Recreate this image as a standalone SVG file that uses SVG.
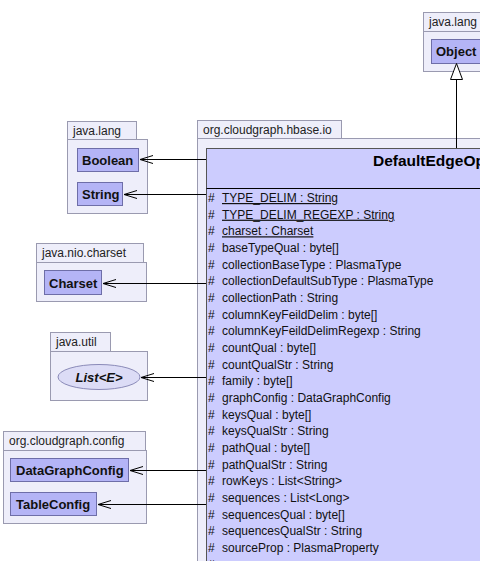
<svg xmlns="http://www.w3.org/2000/svg" width="480" height="561" viewBox="0 0 480 561">
<defs>
<style>
.pkg{fill:#eeeefa;stroke:#9a9ab0;stroke-width:1}
.box{fill:#b4b4f6;stroke:#6e6ea8;stroke-width:1}
.cls{fill:#ccccfe;stroke:#555;stroke-width:1}
.pl{font-family:"Liberation Sans",Arial,sans-serif;font-size:12px;fill:#222}
.nm{font-family:"Liberation Sans",Arial,sans-serif;font-size:13px;font-weight:bold;fill:#111}
.at{font-family:"Liberation Sans",Arial,sans-serif;font-size:12px;fill:#111}
.u{text-decoration:underline}
.ln{stroke:#000;stroke-width:1;fill:none}
</style>
<marker id="open" markerWidth="14" markerHeight="10" refX="13" refY="5" orient="auto" markerUnits="userSpaceOnUse">
<path d="M0,1 L13,5 L0,9" fill="none" stroke="#000" stroke-width="1"/>
</marker>
</defs>
<rect width="480" height="561" fill="#fff"/>

<g id="pkg-java-lang-top">
<rect class="pkg" x="423.5" y="12.5" width="70" height="19"/>
<rect class="pkg" x="423.5" y="31.5" width="70" height="40"/>
<text class="pl" x="429" y="26">java.lang</text>
<g id="Object">
<rect class="box" x="431.5" y="39.5" width="60" height="24"/>
<text class="nm" x="436" y="56">Object</text>
</g>
</g>

<g id="pkg-java-lang">
<rect class="pkg" x="67.5" y="121.5" width="69" height="18"/>
<rect class="pkg" x="67.5" y="139.5" width="80" height="74"/>
<text class="pl" x="73" y="135">java.lang</text>
<g id="Boolean">
<rect class="box" x="77.5" y="148.5" width="61" height="23"/>
<text class="nm" x="82" y="165">Boolean</text>
</g>
<g id="String">
<rect class="box" x="77.5" y="182.5" width="45" height="23"/>
<text class="nm" x="82" y="199">String</text>
</g>
</g>

<g id="pkg-java-nio-charset">
<rect class="pkg" x="36.5" y="243.5" width="107" height="19"/>
<rect class="pkg" x="36.5" y="262.5" width="110" height="39"/>
<text class="pl" x="42" y="257">java.nio.charset</text>
<g id="Charset">
<rect class="box" x="44.5" y="270.5" width="57" height="24"/>
<text class="nm" x="49" y="288">Charset</text>
</g>
</g>

<g id="pkg-java-util">
<rect class="pkg" x="50.5" y="332.5" width="60" height="19"/>
<rect class="pkg" x="50.5" y="351.5" width="97" height="49"/>
<text class="pl" x="56" y="346">java.util</text>
<g id="List">
<ellipse cx="99" cy="377" rx="41" ry="12.5" fill="#dcdcf6" stroke="#8a8ab8"/>
<text class="nm" x="99" y="382" text-anchor="middle" font-style="italic">List&lt;E&gt;</text>
</g>
</g>

<g id="pkg-org-cloudgraph-config">
<rect class="pkg" x="3.5" y="431.5" width="142" height="19"/>
<rect class="pkg" x="3.5" y="450.5" width="143" height="73"/>
<text class="pl" x="9" y="445">org.cloudgraph.config</text>
<g id="DataGraphConfig">
<rect class="box" x="10.5" y="458.5" width="118" height="23"/>
<text class="nm" x="16" y="475">DataGraphConfig</text>
</g>
<g id="TableConfig">
<rect class="box" x="10.5" y="492.5" width="86" height="23"/>
<text class="nm" x="16" y="509">TableConfig</text>
</g>
</g>

<g id="pkg-org-cloudgraph-hbase-io">
<rect class="pkg" x="197.5" y="120.5" width="144" height="18"/>
<rect class="pkg" x="197.5" y="138.5" width="300" height="440"/>
<text class="pl" x="203" y="134">org.cloudgraph.hbase.io</text>
<g id="DefaultEdgeOperator">
<rect class="cls" x="206.5" y="148.5" width="290" height="430"/>
<line class="ln" x1="206.5" y1="188.5" x2="496" y2="188.5"/>
<text x="373" y="166" font-family="'Liberation Sans',Arial,sans-serif" font-size="15.5" font-weight="bold" fill="#000">DefaultEdgeOperator</text>
<g class="at">
<text x="208" y="202">#</text><text x="222" y="202" class="u">TYPE_DELIM : String</text>
<text x="208" y="218.7">#</text><text x="222" y="218.7" class="u">TYPE_DELIM_REGEXP : String</text>
<text x="208" y="235.3">#</text><text x="222" y="235.3" class="u">charset : Charset</text>
<text x="208" y="252">#</text><text x="222" y="252">baseTypeQual : byte[]</text>
<text x="208" y="268.7">#</text><text x="222" y="268.7">collectionBaseType : PlasmaType</text>
<text x="208" y="285.3">#</text><text x="222" y="285.3">collectionDefaultSubType : PlasmaType</text>
<text x="208" y="302">#</text><text x="222" y="302">collectionPath : String</text>
<text x="208" y="318.7">#</text><text x="222" y="318.7">columnKeyFeildDelim : byte[]</text>
<text x="208" y="335.3">#</text><text x="222" y="335.3">columnKeyFeildDelimRegexp : String</text>
<text x="208" y="352">#</text><text x="222" y="352">countQual : byte[]</text>
<text x="208" y="368.7">#</text><text x="222" y="368.7">countQualStr : String</text>
<text x="208" y="385.3">#</text><text x="222" y="385.3">family : byte[]</text>
<text x="208" y="402">#</text><text x="222" y="402">graphConfig : DataGraphConfig</text>
<text x="208" y="418.7">#</text><text x="222" y="418.7">keysQual : byte[]</text>
<text x="208" y="435.3">#</text><text x="222" y="435.3">keysQualStr : String</text>
<text x="208" y="452">#</text><text x="222" y="452">pathQual : byte[]</text>
<text x="208" y="468.7">#</text><text x="222" y="468.7">pathQualStr : String</text>
<text x="208" y="485.3">#</text><text x="222" y="485.3">rowKeys : List&lt;String&gt;</text>
<text x="208" y="502">#</text><text x="222" y="502">sequences : List&lt;Long&gt;</text>
<text x="208" y="518.7">#</text><text x="222" y="518.7">sequencesQual : byte[]</text>
<text x="208" y="535.3">#</text><text x="222" y="535.3">sequencesQualStr : String</text>
<text x="208" y="552">#</text><text x="222" y="552">sourceProp : PlasmaProperty</text>
<text x="208" y="568.7">#</text>
</g>
</g>
</g>

<g id="connectors">
<line class="ln" x1="456.5" y1="148" x2="456.5" y2="79"/>
<path d="M456.5,63.5 L462.5,79.5 L450.5,79.5 Z" fill="#fff" stroke="#000" stroke-width="1"/>
<line class="ln" x1="206" y1="159.5" x2="140" y2="159.5" marker-end="url(#open)"/>
<line class="ln" x1="206" y1="194.5" x2="124" y2="194.5" marker-end="url(#open)"/>
<line class="ln" x1="206" y1="283.5" x2="103" y2="283.5" marker-end="url(#open)"/>
<line class="ln" x1="206" y1="377.5" x2="141" y2="377.5" marker-end="url(#open)"/>
<line class="ln" x1="206" y1="470.5" x2="130" y2="470.5" marker-end="url(#open)"/>
<line class="ln" x1="206" y1="504.5" x2="98" y2="504.5" marker-end="url(#open)"/>
</g>
</svg>
